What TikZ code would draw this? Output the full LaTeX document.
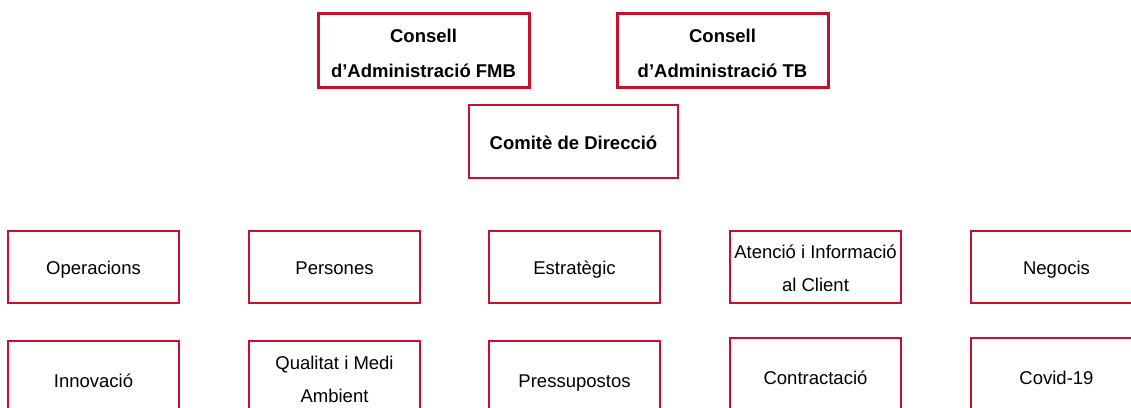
\documentclass[tikz,border=0pt]{standalone}
\usepackage{fontspec}
\setmainfont{Liberation Sans}
\usepackage{xcolor}
\usetikzlibrary{positioning}
\definecolor{boardred}{RGB}{200,16,46}
\newcommand{\firstline}[1]{\rule{0pt}{#1}}

\begin{document}
\begin{tikzpicture}[x=1pt, y=-1pt,
    box/.style={rectangle, draw=boardred, align=center},
    board/.style={box, line width=3pt, minimum width=211pt, minimum height=74pt, font=\fontsize{18.5}{35}\selectfont\bfseries},
    comite/.style={box, line width=2pt, minimum width=209pt, minimum height=73pt, font=\fontsize{18.5}{34}\selectfont\bfseries, text height=15pt, text depth=0pt},
    area2/.style={box, line width=1.4pt, minimum width=171pt, minimum height=72pt, font=\fontsize{18.5}{33}\selectfont},
    area/.style={area2, text height=15pt, text depth=0pt}]
    \useasboundingbox (0,0) rectangle (1131,407);
    % consells
    \node [board] (fmb) at (423.5,50) {\firstline{19.5pt}Consell \\ d’Administració FMB};
    \node [board] (tb) at (722.5,50) {\firstline{19.5pt}Consell \\ d’Administració TB};
    \node [comite] (comite) at (573.5,141.5) {Comitè de Direcció};
    % comissions, primera fila
    \node [area] (operacions) at (93.5,267) {Operacions};
    \node [area] (persones) at (334.5,267) {Persones};
    \node [area] (estrategic) at (574.5,267) {Estratègic};
    \node [area2] (atencio) at (815.5,267) {\firstline{16.5pt}Atenció i Informació \\ al Client};
    \node [area] (negocis) at (1056.5,267) {Negocis};
    % comissions, segona fila
    \node [area, minimum height=78pt] (innovacio) at (93.5,380) {Innovació};
    \node [area2, minimum height=76pt] (qualitat) at (334.5,379) {Qualitat i Medi \\ Ambient};
    \node [area, minimum height=78pt] (pressupostos) at (574.5,380) {Pressupostos};
    \node [area, minimum height=78pt] (contractacio) at (815.5,377) {Contractació};
    \node [area, minimum height=78pt] (covid) at (1056.5,377) {Covid-19};
\end{tikzpicture}
\end{document}
